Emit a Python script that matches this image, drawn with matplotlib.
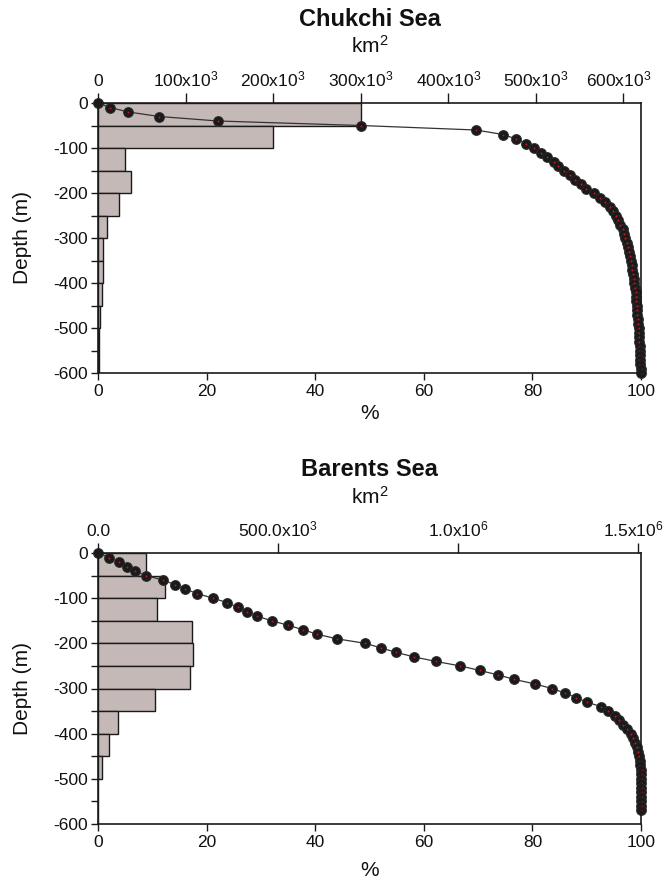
import matplotlib
matplotlib.use("Agg")
import matplotlib.pyplot as plt
import matplotlib.transforms as mtransforms

plt.rcParams['font.family'] = ['Liberation Sans', 'DejaVu Sans']
plt.rcParams['mathtext.fontset'] = 'custom'
plt.rcParams['mathtext.rm'] = 'Liberation Sans'
plt.rcParams['mathtext.it'] = 'Liberation Sans'
plt.rcParams['mathtext.bf'] = 'Liberation Sans:bold'
plt.rcParams['axes.unicode_minus'] = False

# ---------------- data ----------------
# histogram bins (top of each 50 m depth bin)
bin_tops = [0, -50, -100, -150, -200, -250, -300, -350, -400, -450, -500, -550]

# Chukchi Sea: % of area per bin
chukchi_bins_pct = [48.4, 32.2, 5.0, 6.0, 3.9, 1.7, 0.9, 0.9, 0.7, 0.3, 0.2, 0.1]
# Chukchi Sea hypsometric cumulative curve
chukchi_depth = [0, -10, -20, -30, -40, -50, -60, -70, -80, -90, -100,
                 -110, -120, -130, -140, -150, -160, -170, -180, -190, -200,
                 -210, -220, -230, -240, -250, -260, -270, -280, -290, -300,
                 -310, -320, -330, -340, -350, -360, -370, -380, -390, -400,
                 -410, -420, -430, -440, -450, -460, -470, -480, -490, -500,
                 -510, -520, -530, -540, -550, -560, -570, -580, -590, -600]
chukchi_cum_pct = [0.0, 2.2, 5.6, 11.3, 22.1, 48.4, 69.6, 74.6, 77.0, 78.8, 80.3,
                   81.6, 82.7, 83.9, 84.8, 85.8, 87.0, 87.9, 88.9, 89.8, 91.3,
                   92.4, 93.3, 94.2, 94.9, 95.4, 95.8, 96.2, 96.6, 96.9, 97.1,
                   97.4, 97.6, 97.8, 98.0, 98.1, 98.3, 98.4, 98.5, 98.7, 98.8,
                   98.9, 99.0, 99.05, 99.1, 99.2, 99.3, 99.35, 99.4, 99.5, 99.55,
                   99.6, 99.65, 99.7, 99.75, 99.8, 99.85, 99.9, 99.9, 99.95, 100.0]
chukchi_total_km2 = 620e3
chukchi_area_ticks = [0, 100e3, 200e3, 300e3, 400e3, 500e3, 600e3]
chukchi_area_labels = ['0', r'100x10$^3$', r'200x10$^3$', r'300x10$^3$',
                       r'400x10$^3$', r'500x10$^3$', r'600x10$^3$']

# Barents Sea: % of area per bin
barents_bins_pct = [8.8, 12.4, 10.8, 17.3, 17.5, 17.0, 10.5, 3.7, 2.0, 0.7, 0.0, 0.0]
barents_depth = [0, -10, -20, -30, -40, -50, -60, -70, -80, -90, -100,
                 -110, -120, -130, -140, -150, -160, -170, -180, -190, -200,
                 -210, -220, -230, -240, -250, -260, -270, -280, -290, -300,
                 -310, -320, -330, -340, -350, -360, -370, -380, -390, -400,
                 -410, -420, -430, -440, -450, -460, -470, -480, -490, -500,
                 -510, -520, -530, -540, -550, -560, -570]
barents_cum_pct = [0.0, 2.0, 3.9, 5.4, 6.8, 8.9, 12.0, 14.1, 16.1, 18.3, 21.2,
                   23.8, 25.7, 27.5, 29.3, 32.0, 35.0, 37.8, 40.4, 44.0, 49.2,
                   52.1, 54.9, 58.2, 62.2, 66.7, 70.3, 73.7, 76.7, 80.5, 83.6,
                   86.0, 88.0, 90.0, 92.6, 94.0, 95.2, 96.0, 96.7, 97.5, 98.1,
                   98.6, 98.9, 99.2, 99.5, 99.7, 99.8, 99.9, 99.95, 100.0, 100.0,
                   100.0, 100.0, 100.0, 100.0, 100.0, 100.0, 100.0]
barents_total_km2 = 1.508e6
barents_area_ticks = [0, 500e3, 1.0e6, 1.5e6]
barents_area_labels = ['0.0', r'500.0x10$^3$', r'1.0x10$^6$', r'1.5x10$^6$']

pct_ticks = [0, 20, 40, 60, 80, 100]
depth_ticks = [0, -100, -200, -300, -400, -500, -600]
depth_minor = [-50, -150, -250, -350, -450, -550]

# ---------------- style ----------------
W, H = 667, 881
BAR_COLOR = '#c5b9b8'
DARK = '#1a1a1a'
TICK_FS = 12.5
LABEL_FS = 15
TITLE_FS = 17

fig = plt.figure(figsize=(W / 100, H / 100), dpi=100)


def px_axes(left, top, right, bottom):
    return fig.add_axes([left / W, 1 - bottom / H, (right - left) / W, (bottom - top) / H])


def panel(ax, bins_pct, depth, cum_pct, total, aticks, alabels,
          title, title_y, km_y, pct_y):
    ax.barh(bin_tops, bins_pct, height=-50, align='edge', color=BAR_COLOR,
            edgecolor=DARK, linewidth=1.0, zorder=1)
    ax.plot(cum_pct, depth, '-', color='#333333', lw=0.9, zorder=3, clip_on=False)
    ax.plot(cum_pct, depth, 'o', ms=8.0, mfc='#6a6a6a', mec='none', alpha=0.5,
            zorder=4, clip_on=False)
    ax.plot(cum_pct, depth, 'o', ms=7.0, mfc=DARK, mec='#2b2b2b', mew=0.6,
            zorder=4, clip_on=False)
    ax.plot(cum_pct, depth, 'o', ms=1.4, mfc='#d0101a', mec='none',
            zorder=5, clip_on=False)
    ax.set_xlim(0, 100)
    ax.set_ylim(-600, 0)
    ax.set_xticks(pct_ticks)
    ax.set_xticklabels([str(t) for t in pct_ticks])
    ax.set_yticks(depth_ticks)
    ax.set_yticklabels([str(t) for t in depth_ticks])
    ax.set_yticks(depth_minor, minor=True)
    ax.tick_params(axis='both', which='both', direction='out', length=5,
                   width=1.0, color=DARK, labelsize=TICK_FS, labelcolor='#111111')
    ax.tick_params(axis='x', pad=3)
    ax.tick_params(axis='y', pad=2)
    for s in ax.spines.values():
        s.set_linewidth(1.2)
        s.set_color(DARK)
        s.set_zorder(6)
    ax.set_ylabel('Depth (m)', fontsize=LABEL_FS, color='#111111')
    ax.yaxis.set_label_coords(-(98 - 32) / 543, 0.5)

    axt = ax.twiny()
    axt.set_xlim(0, total)
    axt.set_xticks(aticks)
    axt.set_xticklabels(alabels)
    axt.tick_params(axis='x', direction='out', length=7, width=1.0, color=DARK,
                    labelsize=TICK_FS, pad=3, labelcolor='#111111')
    for s in axt.spines.values():
        s.set_visible(False)
    # last top label sits slightly left of its tick in the reference
    last = axt.get_xticklabels()[-1]
    last.set_transform(last.get_transform() +
                       mtransforms.ScaledTranslation(-5 / 100, 0, fig.dpi_scale_trans))

    cx = (98 + 641) / 2 / W
    fig.text(cx, 1 - title_y / H, title, ha='center', va='center',
             fontsize=TITLE_FS, fontweight='bold', color='#111111')
    fig.text(cx, 1 - km_y / H, r'km$^2$', ha='center', va='center',
             fontsize=LABEL_FS, color='#111111')
    fig.text(cx, 1 - pct_y / H, '%', ha='center', va='center',
             fontsize=LABEL_FS, color='#111111')


ax1 = px_axes(98, 103, 641, 373)
panel(ax1, chukchi_bins_pct, chukchi_depth, chukchi_cum_pct, chukchi_total_km2,
      chukchi_area_ticks, chukchi_area_labels, 'Chukchi Sea', 19, 46, 414)

ax2 = px_axes(98, 553, 641, 824)
panel(ax2, barents_bins_pct, barents_depth, barents_cum_pct, barents_total_km2,
      barents_area_ticks, barents_area_labels, 'Barents Sea', 469, 497, 870)

fig.savefig('out.png', dpi=100, facecolor='white')
